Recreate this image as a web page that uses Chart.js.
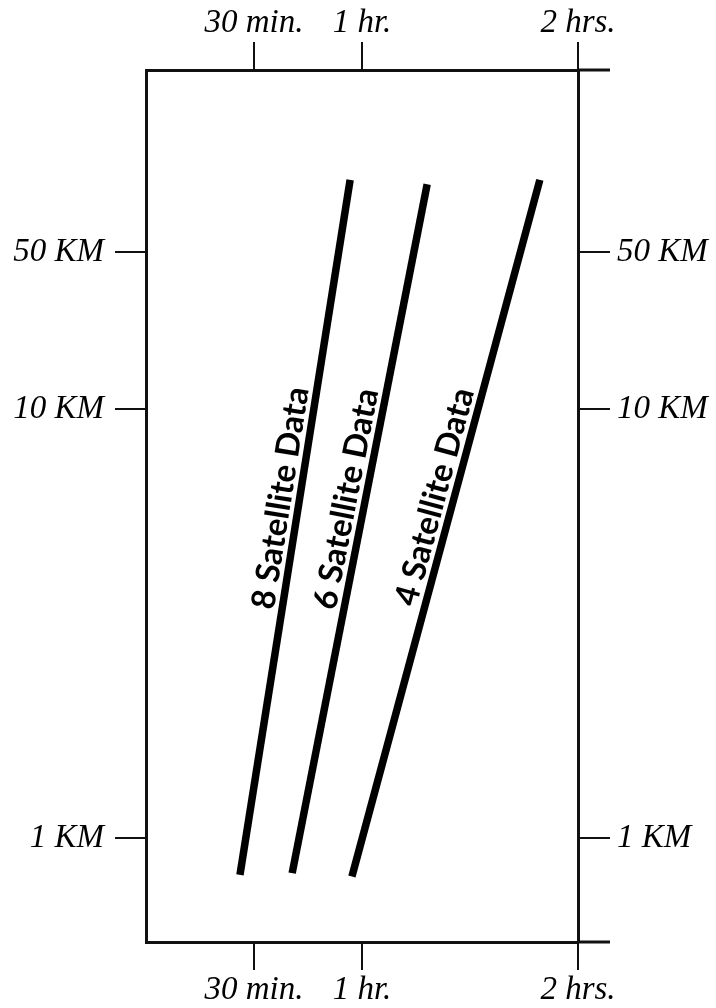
<!DOCTYPE html>
<html>
<head>
<meta charset="utf-8">
<script src="https://cdn.jsdelivr.net/npm/chart.js@4/dist/chart.umd.min.js"></script>
<style>
  html, body { margin: 0; padding: 0; background: #ffffff; }
  #wrap { width: 716px; height: 1008px; }
</style>
</head>
<body>
<div id="wrap"><canvas id="c" width="716" height="1008"></canvas></div>
<script>
// ---- Data ----
// x: time in minutes; y: position on the schematic (non-uniform) distance scale, 0..100
const seriesNames = ['8 Satellite Data', '6 Satellite Data', '4 Satellite Data'];
const series8Time = [26.1, 56.7];
const series8Pos  = [7.7, 87.4];
const series6Time = [40.6, 78.1];
const series6Pos  = [7.9, 86.9];
const series4Time = [57.2, 109.4];
const series4Pos  = [7.5, 87.4];

const timeTickValues = [30, 60, 120];
const timeTickLabels = ['30 min.', '1 hr.', '2 hrs.'];
const distTickValues = [11.9, 61.1, 79.1];
const distTickLabels = ['1 KM', '10 KM', '50 KM'];

const toPoints = (xs, ys) => xs.map((x, i) => ({ x: x, y: ys[i] }));

const tickFont = { family: 'Liberation Serif', style: 'italic', size: 33 };

function timeAxis(position, extent, pad) {
  return {
    type: 'linear', position: position, min: 0, max: 120,
    afterBuildTicks: s => { s.ticks = timeTickValues.map(v => ({ value: v })); },
    afterFit: s => { s.height = extent; },
    ticks: {
      color: '#000', font: tickFont, padding: pad, maxRotation: 0, autoSkip: false,
      callback: v => timeTickLabels[timeTickValues.indexOf(v)]
    },
    grid: { drawOnChartArea: false, drawTicks: true, tickLength: 28, color: '#111', lineWidth: 2 },
    border: { display: true, color: '#111', width: 3 }
  };
}
function distAxis(position, extent, tickLen, pad) {
  return {
    type: 'linear', position: position, min: 0, max: 100,
    afterBuildTicks: s => { s.ticks = distTickValues.map(v => ({ value: v })); },
    afterFit: s => { s.width = extent; },
    ticks: {
      color: '#000', font: tickFont, padding: pad, autoSkip: false,
      callback: v => distTickLabels[distTickValues.indexOf(v)]
    },
    grid: { drawOnChartArea: false, drawTicks: true, tickLength: tickLen, color: '#111', lineWidth: 2 },
    border: { display: true, color: '#111', width: 3 }
  };
}

// extends top and bottom frame lines to the right, as in the original drawing
const frameExtension = {
  id: 'frameExtension',
  afterDraw(chart) {
    const { ctx, chartArea } = chart;
    ctx.save();
    ctx.strokeStyle = '#111';
    ctx.lineWidth = 3;
    ctx.beginPath();
    ctx.moveTo(chartArea.right, chartArea.top);
    ctx.lineTo(chartArea.right + 32, chartArea.top);
    ctx.moveTo(chartArea.right, chartArea.bottom);
    ctx.lineTo(chartArea.right + 32, chartArea.bottom);
    ctx.stroke();
    ctx.restore();
  }
};

const labelFont = 'normal normal bold 33px Lato';

// writes each series name along its line
const lineLabels = {
  id: 'lineLabels',
  afterDatasetsDraw(chart) {
    const { ctx } = chart;
    chart.data.datasets.forEach((ds, i) => {
      const pts = chart.getDatasetMeta(i).data;
      const a = pts[0], b = pts[pts.length - 1];
      const t = 0.538;
      const px = a.x + (b.x - a.x) * t;
      const py = a.y + (b.y - a.y) * t;
      const ang = Math.atan2(b.y - a.y, b.x - a.x);
      ctx.save();
      ctx.translate(px, py);
      ctx.rotate(ang);
      ctx.font = labelFont;
      ctx.fillStyle = '#000';
      ctx.textAlign = 'center';
      ctx.textBaseline = 'alphabetic';
      ctx.fillText(ds.label, 0, -8);
      ctx.restore();
    });
  }
};

const makeSet = (label, xs, ys) => ({
  label: label,
  data: toPoints(xs, ys),
  borderColor: '#000',
  borderWidth: 7.5,
  borderCapStyle: 'butt',
  pointRadius: 0,
  showLine: true,
  fill: false,
  tension: 0
});

new Chart(document.getElementById('c'), {
  type: 'scatter',
  data: {
    datasets: [
      makeSet(seriesNames[0], series8Time, series8Pos),
      makeSet(seriesNames[1], series6Time, series6Pos),
      makeSet(seriesNames[2], series4Time, series4Pos)
    ]
  },
  options: {
    responsive: false,
    animation: false,
    layout: { padding: 0 },
    plugins: { legend: { display: false }, tooltip: { enabled: false } },
    scales: {
      x: timeAxis('bottom', 66, 1),
      x2: timeAxis('top', 70, -1),
      y: distAxis('left', 146, 31, 11),
      y2: distAxis('right', 138, 32, 7)
    }
  },
  plugins: [frameExtension, lineLabels]
});
</script>
</body>
</html>
